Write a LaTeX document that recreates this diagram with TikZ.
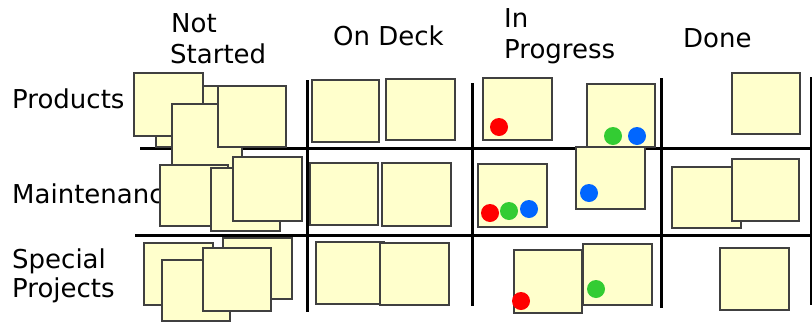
\documentclass[tikz,border=0pt]{standalone}
\usepackage{fontspec}
\setmainfont{DejaVu Sans}
\definecolor{notefill}{HTML}{FFFFCC}
\definecolor{noteedge}{HTML}{404040}
\definecolor{dotred}{HTML}{FF0000}
\definecolor{dotgreen}{HTML}{33CC33}
\definecolor{dotblue}{HTML}{0066FF}

\begin{document}
\begin{tikzpicture}[
  x=1pt,y=-1pt,
  lane/.style={line width=3pt,draw=black},
  note/.style={draw=noteedge,fill=notefill,line width=1.3pt},
  hd/.style={font=\fontsize{26}{30}\selectfont,anchor=base west,inner sep=0pt}
]
\useasboundingbox (0,0) rectangle (812,322);

% ---- column and row titles ----
\node[hd] (notA) at (171,32) {Not};
\node[hd] (notB) at (170,63) {Started};
\node[hd] (deck) at (333,45) {On Deck};
\node[hd] (progA) at (504,27) {In};
\node[hd] (progB) at (504,58) {Progress};
\node[hd] (done) at (683,47) {Done};
\node[hd] (prod) at (12,108) {Products};
\node[hd] (maint) at (12,203) {Maintenance};
\node[hd] (specA) at (12,268) {Special};
\node[hd] (specB) at (12,297) {Projects};

% ---- board lines ----
\draw[lane] (140,148) -- (812,148);
\draw[lane] (135,235) -- (812,235);
\foreach \x/\t/\b in {307/80/312, 472/83/306, 661/78/308, 811/77/305}
  \draw[lane] (\x,\t) -- (\x,\b);

% ---- not started ----
\foreach \a/\b/\c/\d in {156/86/225/147, 134/73/203/136, 172/104/242/175,
    218/86/286/147, 160/165/228/226, 211/168/280/231, 233/157/302/221,
    144/243/213/305, 223/238/292/299, 162/260/230/321, 203/248/271/311}
  \draw[note] (\a,\b) rectangle (\c,\d);

% ---- on deck ----
\foreach \a/\b/\c/\d in {312/80/379/142, 386/79/455/140, 310/163/378/225,
    382/163/451/226, 316/242/384/304, 380/243/449/305}
  \draw[note] (\a,\b) rectangle (\c,\d);

% ---- in progress ----
\foreach \a/\b/\c/\d in {483/78/552/140, 587/84/655/147, 478/164/547/227,
    576/147/645/209, 514/250/582/313, 583/244/652/305}
  \draw[note] (\a,\b) rectangle (\c,\d);

% ---- done ----
\foreach \a/\b/\c/\d in {732/73/800/134, 672/167/741/228, 732/159/799/221,
    720/248/789/310}
  \draw[note] (\a,\b) rectangle (\c,\d);

% ---- owner dots ----
\foreach \x/\y/\c in {499/127/dotred, 613/136/dotgreen, 637/136/dotblue,
    490/213/dotred, 509/211/dotgreen, 529/209/dotblue, 589/193/dotblue,
    521/301/dotred, 596/289/dotgreen}
  \fill[\c] (\x,\y) circle (9pt);

\end{tikzpicture}
\end{document}
